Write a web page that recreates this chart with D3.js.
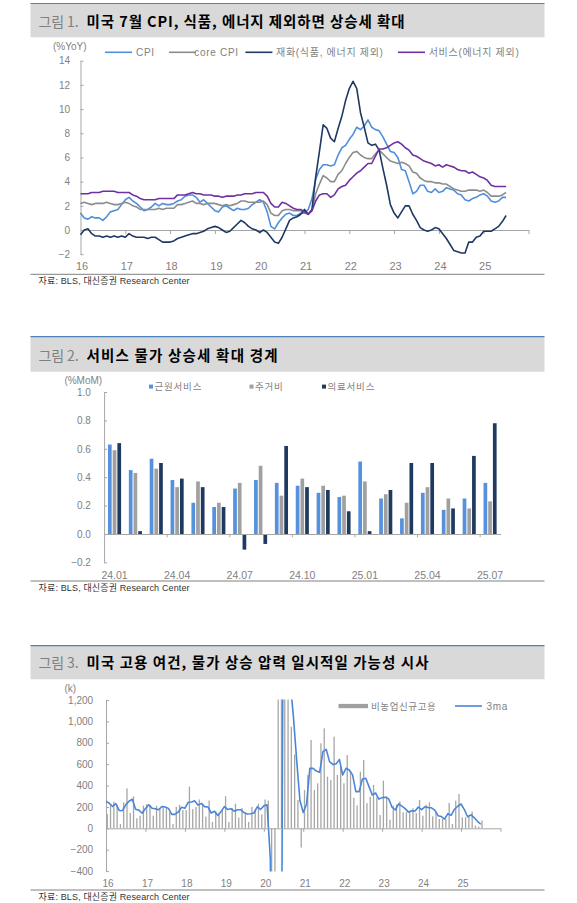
<!DOCTYPE html>
<html>
<head>
<meta charset="utf-8">
<script src="https://cdn.jsdelivr.net/npm/d3@7"></script>
<style>
  body { margin: 0; background: #fff; }
  svg { display: block; font-family: "Liberation Sans", "Noto Sans CJK KR", sans-serif; }
  .tick text { fill: #7f7f7f; }
</style>
</head>
<body>
<svg id="canvas"></svg>
<script>
// ---- chart 1 : CPI YoY, monthly from 2016.01 ----
const cpiYoY = [
  1.4, 1.0, 0.9, 1.1, 1.0, 1.0, 0.8, 1.1, 1.5, 1.6, 1.7, 2.1,
  2.5, 2.7, 2.4, 2.2, 1.9, 1.6, 1.7, 1.9, 2.2, 2.0, 2.2, 2.1,
  2.1, 2.2, 2.4, 2.5, 2.8, 2.9, 2.9, 2.7, 2.3, 2.5, 2.2, 1.9,
  1.6, 1.5, 1.9, 2.0, 1.8, 1.6, 1.8, 1.7, 1.7, 1.8, 2.1, 2.3,
  2.5, 2.3, 1.5, 0.3, 0.1, 0.6, 1.0, 1.3, 1.4, 1.2, 1.2, 1.4,
  1.4, 1.7, 2.6, 4.2, 5.0, 5.4, 5.4, 5.3, 5.4, 6.2, 6.8, 7.0,
  7.5, 7.9, 8.5, 8.3, 8.6, 9.1, 8.5, 8.3, 8.2, 7.7, 7.1, 6.5,
  6.4, 6.0, 5.0, 4.9, 4.0, 3.0, 3.2, 3.7, 3.7, 3.2, 3.1, 3.4,
  3.1, 3.2, 3.5, 3.4, 3.3, 3.0, 2.9, 2.5, 2.4, 2.6, 2.7, 2.9,
  3.0, 2.8, 2.4, 2.3, 2.4, 2.7, 2.7
];
const coreCpiYoY = [
  2.2, 2.3, 2.2, 2.1, 2.2, 2.2, 2.2, 2.3, 2.2, 2.1, 2.1, 2.2,
  2.3, 2.2, 2.0, 1.9, 1.7, 1.7, 1.7, 1.7, 1.7, 1.8, 1.7, 1.8,
  1.8, 1.8, 2.1, 2.1, 2.2, 2.3, 2.4, 2.2, 2.2, 2.1, 2.2, 2.2,
  2.2, 2.1, 2.0, 2.1, 2.0, 2.1, 2.2, 2.4, 2.4, 2.3, 2.3, 2.3,
  2.3, 2.4, 2.1, 1.4, 1.2, 1.2, 1.6, 1.7, 1.7, 1.6, 1.6, 1.6,
  1.4, 1.3, 1.6, 3.0, 3.8, 4.5, 4.3, 4.0, 4.0, 4.6, 4.9, 5.5,
  6.0, 6.4, 6.5, 6.2, 6.0, 5.9, 5.9, 6.3, 6.6, 6.3, 6.0, 5.7,
  5.6, 5.5, 5.6, 5.5, 5.3, 4.8, 4.7, 4.3, 4.1, 4.0, 4.0, 3.9,
  3.9, 3.8, 3.8, 3.6, 3.4, 3.3, 3.2, 3.2, 3.3, 3.3, 3.3, 3.2,
  3.3, 3.1, 2.8, 2.8, 2.8, 2.9, 3.1
];
const goodsYoY = [
  -0.4, 0.0, 0.1, -0.3, -0.5, -0.5, -0.6, -0.5, -0.6, -0.5, -0.6, -0.5,
  -0.6, -0.3, -0.5, -0.6, -0.6, -0.6, -0.7, -0.6, -0.6, -0.8, -1.0, -1.0,
  -1.0, -0.9, -0.7, -0.6, -0.5, -0.4, -0.3, -0.3, -0.2, -0.1, 0.1, 0.2,
  0.3, 0.2, 0.0, -0.2, -0.1, 0.2, 0.5, 0.8, 0.6, 0.3, 0.1, 0.0,
  -0.2, 0.0, -0.2, -0.6, -1.0, -1.1, -0.6, 0.1, 0.8, 1.0, 1.1, 1.3,
  1.7, 1.3, 1.7, 4.4, 6.5, 8.7, 8.4, 7.6, 7.3, 8.4, 9.4, 10.7,
  11.7, 12.3, 11.7, 9.7, 8.5, 7.2, 7.0, 7.1, 6.6, 5.1, 3.7, 2.1,
  1.4, 1.0, 1.5, 2.0, 2.0, 1.3, 0.8, 0.2, 0.0, -0.1, 0.0, 0.2,
  0.1, -0.3, -0.7, -1.2, -1.7, -1.8, -1.9, -1.9, -1.0, -1.0, -0.6, -0.5,
  -0.1, -0.1, -0.1, 0.1, 0.3, 0.7, 1.2
];
const servicesYoY = [
  3.0, 3.0, 3.0, 3.1, 3.1, 3.1, 3.2, 3.2, 3.2, 3.2, 3.1, 3.1,
  3.1, 3.1, 2.9, 2.8, 2.6, 2.5, 2.5, 2.5, 2.5, 2.6, 2.6, 2.6,
  2.6, 2.6, 2.9, 2.9, 2.9, 3.0, 3.1, 3.0, 3.0, 2.9, 2.9, 2.9,
  2.8, 2.8, 2.7, 2.8, 2.8, 2.8, 2.9, 2.9, 3.0, 3.0, 3.0, 3.1,
  3.1, 3.1, 2.8, 2.2, 1.9, 1.9, 2.3, 2.2, 2.0, 1.8, 1.7, 1.7,
  1.5, 1.3, 1.6, 2.4, 2.9, 3.0, 3.0, 2.7, 2.9, 3.4, 3.6, 3.7,
  4.1, 4.4, 4.7, 4.9, 5.2, 5.5, 5.5, 6.1, 6.7, 6.7, 6.8, 7.0,
  7.2, 7.3, 7.1, 6.8, 6.6, 6.2, 6.1, 5.9, 5.7, 5.6, 5.5, 5.3,
  5.4, 5.2, 5.4, 5.3, 5.2, 5.0, 4.9, 4.9, 4.7, 4.8, 4.6, 4.4,
  4.3, 4.1, 3.7, 3.6, 3.6, 3.6, 3.6
];
const cpiLegend = ['CPI', 'core CPI', '재화(식품, 에너지 제외)', '서비스(에너지 제외)'];
const cpiYTicks = [-2, 0, 2, 4, 6, 8, 10, 12, 14];
const cpiYears = [2016, 2017, 2018, 2019, 2020, 2021, 2022, 2023, 2024, 2025];

// ---- chart 2 : services MoM ----
const momMonths = ['24.01', '24.02', '24.03', '24.04', '24.05', '24.06', '24.07', '24.08', '24.09',
  '24.10', '24.11', '24.12', '25.01', '25.02', '25.03', '25.04', '25.05', '25.06', '25.07'];
const coreServicesMoM = [0.63, 0.45, 0.53, 0.38, 0.22, 0.19, 0.32, 0.38, 0.36, 0.34, 0.29, 0.26, 0.51, 0.25, 0.11, 0.29, 0.17, 0.25, 0.36];
const shelterMoM = [0.59, 0.43, 0.46, 0.33, 0.37, 0.22, 0.36, 0.48, 0.27, 0.39, 0.34, 0.27, 0.37, 0.28, 0.22, 0.33, 0.25, 0.18, 0.23];
const medicalMoM = [0.64, 0.02, 0.50, 0.39, 0.33, 0.19, -0.11, -0.07, 0.62, 0.33, 0.31, 0.16, 0.02, 0.31, 0.50, 0.50, 0.18, 0.55, 0.78];
const momLegend = ['근원서비스', '주거비', '의료서비스'];
const momLabels = ['24.01', '24.04', '24.07', '24.10', '25.01', '25.04', '25.07'];
const momYTicks = [-0.2, 0.0, 0.2, 0.4, 0.6, 0.8, 1.0];

// ---- chart 3 : nonfarm payrolls (k), monthly from 2015.11 ----
const payrolls = [
  290, 340,
  134, 230, 249, 212, 40, 243, 374, 143, 299, 94, 118, 212,
  227, 220, 118, 212, 190, 210, 200, 150, 40, 200, 220, 170,
  170, 390, 180, 200, 270, 230, 110, 260, 60, 160, 140, 170,
  300, 60, 190, 230, 100, 190, 150, 60, 200, 170, 230, 130,
  270, 260, -1400, -20500, 2700, 4600, 1700, 1500, 950, 690, 265, -180,
  358, 499, 826, 358, 421, 795, 935, 483, 452, 857, 499, 577,
  421, 685, 529, 286, 214, 529, 640, 235, 295, 406, 290, 125,
  446, 299, 81, 212, 221, 252, 150, 150, 156, 187, 143, 265,
  118, 221, 243, 112, 156, 87, 87, 87, 237, 40, 259, 321,
  103, 103, 118, 156, 25, 16, 73
];
const payrollLegend = ['비농업신규고용', '3ma'];
const payrollYTicks = [-400, -200, 0, 200, 400, 600, 800, 1000, 1200];
const payrollYears = [2016, 2017, 2018, 2019, 2020, 2021, 2022, 2023, 2024, 2025];

const width = 577;
const height = 903;
const svg = d3.select('#canvas').attr('width', width).attr('height', height);
const gray = '#7f7f7f';
const axisGray = '#a6a6a6';
const source = '자료: BLS, 대신증권 Research Center';

// panel frame: blue rule, grey title band, bottom rule and source
function frame(top, bandBottom, no, title, titleY, titleLen, sepY) {
  svg.append('rect').attr('x', 30.5).attr('y', top).attr('width', 514).attr('height', bandBottom - top).attr('fill', '#d9d9d9');
  svg.append('line').attr('x1', 30.5).attr('x2', 544.5).attr('y1', top).attr('y2', top)
    .attr('stroke', '#4f81bd').attr('stroke-width', 1.2);
  svg.append('text').attr('x', 38.6).attr('y', titleY).attr('textLength', 40)
    .style('font-family', '"Noto Sans CJK KR"').style('font-size', '14px').attr('fill', '#808080').text(no);
  svg.append('text').attr('x', 86.5).attr('y', titleY).attr('textLength', titleLen)
    .style('font-family', '"Noto Sans CJK KR"').style('font-size', '14.5px').style('font-weight', 700).attr('fill', '#000').text(title);
  svg.append('line').attr('x1', 30.5).attr('x2', 544.5).attr('y1', sepY).attr('y2', sepY).attr('stroke', '#808080').attr('stroke-width', 1);
  svg.append('text').attr('x', 38.6).attr('y', sepY + 10).attr('textLength', 151)
    .style('font-size', '9px').attr('fill', '#333').text(source);
}

function styleAxis(g, size) {
  g.select('.domain').attr('stroke', axisGray);
  g.selectAll('.tick line').attr('stroke', axisGray);
  g.selectAll('.tick text').style('font-size', size + 'px').attr('fill', gray);
}

// ================= chart 1 =================
frame(3.5, 37.3, '그림 1.', '미국 7월 CPI, 식품, 에너지 제외하면 상승세 확대', 27, 318, 274.3);

const x1 = d3.scaleLinear().domain([2016, 2026]).range([80.5, 528.5]);
const y1 = d3.scaleLinear().domain([-2, 14]).range([254.2, 60.7]);

svg.append('g').attr('transform', 'translate(80.5,0)')
  .call(d3.axisLeft(y1).tickValues(cpiYTicks).tickSize(-3).tickSizeOuter(0).tickPadding(10.5)
    .tickFormat(d3.format('d')))
  .call(g => styleAxis(g, 10));

svg.append('g').attr('transform', `translate(0,${y1(0)})`)
  .call(d3.axisBottom(x1).tickValues(d3.range(2017, 2027)).tickSize(4).tickSizeOuter(0).tickFormat(''))
  .call(g => styleAxis(g, 10));

svg.append('g').attr('transform', `translate(1,${y1(-2)})`)
  .call(d3.axisBottom(x1).tickValues(cpiYears).tickSize(0).tickPadding(8.5).tickFormat(d => String(d).slice(2)))
  .call(g => { g.select('.domain').remove(); styleAxis(g, 11); });

svg.append('text').attr('x', 53).attr('y', 50.3).style('font-size', '10px').attr('fill', gray).text('(%YoY)');

const cpiSeries = [
  { name: cpiLegend[0], values: cpiYoY, color: '#4f8fdd', lx: 105, tx: 136 },
  { name: cpiLegend[1], values: coreCpiYoY, color: '#8c8c8c', lx: 169, tx: 194.3 },
  { name: cpiLegend[2], values: goodsYoY, color: '#1f3864', lx: 245.4, tx: 276 },
  { name: cpiLegend[3], values: servicesYoY, color: '#7030a0', lx: 398, tx: 428.7 }
];

const line1 = d3.line().x((d, i) => x1(2016 + i / 12)).y(d => y1(d));

svg.selectAll('.cpi-line')
  .data(cpiSeries)
  .enter()
  .append('path')
  .attr('class', 'cpi-line')
  .attr('d', d => line1(d.values))
  .attr('fill', 'none')
  .attr('stroke', d => d.color)
  .attr('stroke-width', 1.6)
  .attr('stroke-linejoin', 'round');

const leg1 = svg.selectAll('.cpi-leg').data(cpiSeries).enter().append('g').attr('class', 'cpi-leg');
leg1.append('line').attr('x1', d => d.lx).attr('x2', d => d.lx + 27).attr('y1', 52.3).attr('y2', 52.3)
  .attr('stroke', d => d.color).attr('stroke-width', 1.6);
leg1.append('text').attr('x', d => d.tx).attr('y', 55.9).style('font-size', '10px').style('letter-spacing', '0.7px')
  .attr('fill', gray).text(d => d.name);

// ================= chart 2 =================
frame(336.7, 371.7, '그림 2.', '서비스 물가 상승세 확대 경계', 360.7, 191, 581);

const x2 = d3.scaleBand().domain(momMonths).range([104.1, 500.5]).padding(0);
const y2 = d3.scaleLinear().domain([-0.2, 1.0]).range([562.4, 392]);
const keys2 = ['core', 'shelter', 'medical'];
const colors2 = ['#5591dc', '#a0a0a0', '#1f3a60'];
const inner2 = d3.scaleBand().domain(keys2)
  .range([x2.bandwidth() / 2 - 6.55, x2.bandwidth() / 2 + 6.55]).paddingInner(0.213);

const momRows = momMonths.map((m, i) => ({
  month: m,
  vals: [coreServicesMoM[i], shelterMoM[i], medicalMoM[i]]
}));

svg.append('g').attr('transform', 'translate(104.1,0)')
  .call(d3.axisLeft(y2).tickValues(momYTicks).tickSize(-3).tickSizeOuter(0).tickPadding(13.2).tickFormat(d3.format('.1f')))
  .call(g => styleAxis(g, 10));

const groups2 = svg.selectAll('.mom-group')
  .data(momRows)
  .enter()
  .append('g')
  .attr('class', 'mom-group')
  .attr('transform', d => `translate(${x2(d.month)},0)`);

groups2.selectAll('rect')
  .data(d => d.vals.map((v, j) => ({ key: keys2[j], v, color: colors2[j] })))
  .enter()
  .append('rect')
  .attr('x', d => inner2(d.key))
  .attr('width', inner2.bandwidth())
  .attr('y', d => y2(Math.max(0, d.v)))
  .attr('height', d => Math.abs(y2(d.v) - y2(0)))
  .attr('fill', d => d.color);

const idx2 = d3.scaleLinear().domain([0, momMonths.length]).range([104.1, 500.5]);
svg.append('g').attr('transform', `translate(0,${y2(0)})`)
  .call(d3.axisBottom(idx2).tickValues([3, 6, 9, 12, 15, 18]).tickSize(3.3).tickSizeOuter(0).tickFormat(''))
  .call(g => styleAxis(g, 10));

svg.append('g').attr('transform', `translate(0,${y2(-0.2)})`)
  .call(d3.axisBottom(x2).tickValues(momLabels).tickSize(0).tickPadding(8.9))
  .call(g => { g.select('.domain').remove(); styleAxis(g, 10.5); });

svg.append('text').attr('x', 64.4).attr('y', 383.6).style('font-size', '10px').attr('fill', gray).text('(%MoM)');

const legX2 = [149, 249.5, 322];
const leg2 = svg.selectAll('.mom-leg').data(momLegend).enter().append('g').attr('class', 'mom-leg');
leg2.append('rect').attr('x', (d, i) => legX2[i]).attr('y', 384.6).attr('width', 4).attr('height', 4)
  .attr('fill', (d, i) => colors2[i]);
leg2.append('text').attr('x', (d, i) => legX2[i] + 5.5).attr('y', 390.3)
  .style('font-size', '9.5px').style('letter-spacing', '0.8px').attr('fill', gray).text(d => d);

// ================= chart 3 =================
frame(645.7, 679.3, '그림 3.', '미국 고용 여건, 물가 상승 압력 일시적일 가능성 시사', 668.3, 342, 890);

const x3 = d3.scaleLinear().domain([2016, 2026]).range([106, 500.5]);
const y3 = d3.scaleLinear().domain([-400, 1200]).range([871.1, 700]);

// first two entries (2015.11, 2015.12) only feed the 3-month average
const payRows = payrolls.map((v, i) => ({
  t: 2015 + 10 / 12 + i / 12,
  v,
  ma: i >= 2 ? d3.mean(payrolls.slice(i - 2, i + 1)) : null
})).slice(2);

svg.append('defs').append('clipPath').attr('id', 'clip3')
  .append('rect').attr('x', 106).attr('y', 699.5).attr('width', 394.5).attr('height', 172);

svg.append('g').attr('transform', 'translate(106,0)')
  .call(d3.axisLeft(y3).tickValues(payrollYTicks).tickSize(-3).tickSizeOuter(0).tickPadding(12.9).tickFormat(d3.format(',')))
  .call(g => styleAxis(g, 10));

const plot3 = svg.append('g').attr('clip-path', 'url(#clip3)');

plot3.selectAll('.pay-bar')
  .data(payRows)
  .enter()
  .append('rect')
  .attr('class', 'pay-bar')
  .attr('x', d => x3(d.t) + 0.6)
  .attr('width', 1.3)
  .attr('y', d => y3(Math.max(0, d.v)))
  .attr('height', d => Math.abs(y3(d.v) - y3(0)))
  .attr('fill', '#a6a6a6');

plot3.append('path')
  .datum(payRows)
  .attr('d', d3.line().x(d => x3(d.t)).y(d => y3(d.ma)))
  .attr('fill', 'none')
  .attr('stroke', '#4a86d8')
  .attr('stroke-width', 1.6)
  .attr('stroke-linejoin', 'round');

svg.append('g').attr('transform', `translate(0,${y3(0)})`)
  .call(d3.axisBottom(x3).tickValues(d3.range(2017, 2027)).tickSize(3.5).tickSizeOuter(0).tickFormat(''))
  .call(g => styleAxis(g, 10));

svg.append('g').attr('transform', `translate(1.5,${y3(-400)})`)
  .call(d3.axisBottom(x3).tickValues(payrollYears).tickSize(0).tickPadding(8.5).tickFormat(d => String(d).slice(2)))
  .call(g => { g.select('.domain').remove(); styleAxis(g, 10); });

svg.append('text').attr('x', 64.4).attr('y', 691.9).style('font-size', '10px').attr('fill', gray).text('(k)');

svg.append('rect').attr('x', 338.5).attr('y', 703.9).attr('width', 29.5).attr('height', 4.3).attr('fill', '#a0a0a0');
svg.append('text').attr('x', 371).attr('y', 709.5).style('font-size', '9.5px').style('letter-spacing', '0.6px')
  .attr('fill', gray).text(payrollLegend[0]);
svg.append('line').attr('x1', 455).attr('x2', 482).attr('y1', 706).attr('y2', 706).attr('stroke', '#4a86d8').attr('stroke-width', 1.6);
svg.append('text').attr('x', 486.5).attr('y', 709.5).style('font-size', '10px').style('letter-spacing', '0.7px')
  .attr('fill', gray).text(payrollLegend[1]);
</script>
</body>
</html>
